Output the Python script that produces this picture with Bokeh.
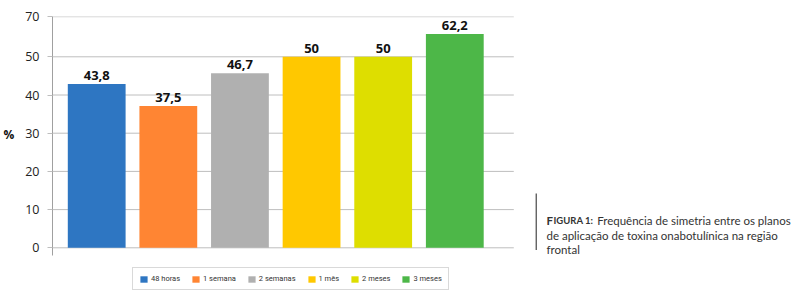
from bokeh.plotting import figure
from bokeh.models import Range1d, FixedTicker, Legend, LegendItem, ColumnDataSource
from bokeh.core.properties import value
from bokeh.embed import file_html
from bokeh.resources import INLINE

# ---- data ----
categories = ["48 horas", "1 semana", "2 semanas", "1 mês", "2 meses", "3 meses"]
value_labels = ["43,8", "37,5", "46,7", "50", "50", "62,2"]
# bar heights as drawn against the (0-50 linear) gridlines of the picture
bar_heights = [42.9, 37.1, 45.7, 50.0, 50.0, 56.0]
colors = ["#2E76C2", "#FF8533", "#B0B0B0", "#FFC800", "#DEDE00", "#4DB748"]
y_tick_values = [0, 10, 20, 30, 40, 50, 60.5]
y_tick_labels = ["0", "10", "20", "30", "40", "50", "70"]
y_axis_label = "%"
caption_head_big = "F"
caption_head_small = "IGURA 1:"
caption_lines = [
    "Frequência de simetria entre os planos",
    "de aplicação de toxina onabotulínica na região",
    "frontal",
]

FONT = "Open Sans"
CF = "Lato"

# ---- layout geometry (pixels) ----
W, H = 800, 298
LEFT, TOP = 52, 16
ZERO_PX = 247.3          # pixel row of value 0
PX_PER_UNIT = 3.82       # vertical pixels per value unit
PITCH = 71.62            # pixels between bar centres
FIRST_CENTER = 96.2      # pixel column of first bar centre
GRID_RIGHT_PX = 513.3

x_start = -(FIRST_CENTER - LEFT) / PITCH
x_end = x_start + (W - LEFT) / PITCH
y_start = -(H - ZERO_PX) / PX_PER_UNIT
y_end = (ZERO_PX - TOP) / PX_PER_UNIT


def xd(px):
    return x_start + (px - LEFT) / PITCH


def yd(py):
    return (ZERO_PX - py) / PX_PER_UNIT


x_pos = list(range(len(categories)))
src = ColumnDataSource(dict(x=x_pos, top=bar_heights, color=colors,
                            lab=value_labels, cat=categories))

p = figure(width=W, height=H, output_backend="svg", toolbar_location=None,
           x_range=Range1d(x_start, x_end), y_range=Range1d(y_start, y_end),
           min_border_left=LEFT, min_border_right=0, min_border_top=TOP,
           min_border_bottom=0)
p.outline_line_color = None
p.background_fill_color = "white"
p.border_fill_color = "white"
p.xaxis.visible = False
p.grid.visible = False

ax = p.yaxis[0]
ax.ticker = FixedTicker(ticks=y_tick_values)
ax.major_label_overrides = {v: l for v, l in zip(y_tick_values, y_tick_labels)}
ax.bounds = (yd(255), y_end)
ax.axis_line_color = "#A0A0A0"
ax.major_tick_line_color = "#BEBEBE"
ax.major_tick_out = 5
ax.major_tick_in = 0
ax.minor_tick_line_color = None
ax.major_label_standoff = 8
ax.major_label_text_font = FONT
ax.major_label_text_font_size = "12.5px"
ax.major_label_text_color = "#222222"
# the label sits level with the middle of the 0-70 span, above the frame centre
ax.axis_label = y_axis_label + "\n\n\n"
ax.axis_label_text_line_height = 0.92
ax.axis_label_orientation = "horizontal"
ax.axis_label_standoff = 8
ax.axis_label_text_font = FONT
ax.axis_label_text_font_size = "12px"
ax.axis_label_text_font_style = "bold"
ax.axis_label_text_color = "#111111"

# horizontal gridlines at the axis ticks, limited to the chart area
n = len(y_tick_values)
p.segment(x0=[x_start] * n, x1=[xd(GRID_RIGHT_PX)] * n, y0=y_tick_values, y1=y_tick_values,
          line_color="#BEBEBE", line_width=1)

r = p.vbar(x="x", top="top", width=57.8 / PITCH, fill_color="color", line_color=None, source=src)

p.text(x="x", y="top", text="lab", source=src, text_align="center",
       text_baseline="bottom", y_offset=-4,
       text_font=value(FONT), text_font_style="bold", text_font_size="13px",
       text_color="#111111")

items = [LegendItem(label=c, renderers=[r], index=i) for i, c in enumerate(categories)]
legend = Legend(items=items, orientation="horizontal", location=(80, 8))
legend.glyph_width = 9
legend.glyph_height = 8
legend.label_height = 8
legend.label_width = 0
legend.label_standoff = 3
legend.spacing = 11
legend.padding = 6
legend.margin = 0
legend.label_text_font = "Roboto"
legend.label_text_font_size = "7.5px"
legend.label_text_color = "#333333"
legend.border_line_color = "#B4B4B4"
legend.border_line_width = 1
legend.background_fill_color = "white"
legend.background_fill_alpha = 1
p.add_layout(legend, "center")

# ---- caption ----
p.segment(x0=[xd(535.7)], y0=[yd(193)], x1=[xd(535.7)], y1=[yd(249.5)],
          line_color="#222222", line_width=1)
p.text(x=[xd(546)], y=[yd(220)], text=[caption_head_big], text_font=value(CF),
       text_font_style="bold", text_font_size="11.5px", text_color="#333333",
       text_baseline="alphabetic")
p.text(x=[xd(553)], y=[yd(220)], text=[caption_head_small], text_font=value(CF),
       text_font_style="bold", text_font_size="9.5px", text_color="#333333",
       text_baseline="alphabetic")
p.text(x=[xd(596.7), xd(546), xd(546)], y=[yd(220), yd(234.5), yd(249)], text=caption_lines,
       text_font=value(CF), text_font_size="11.5px", text_color="#333333",
       text_baseline="alphabetic")

open("out.html", "w").write(file_html(p, INLINE))
